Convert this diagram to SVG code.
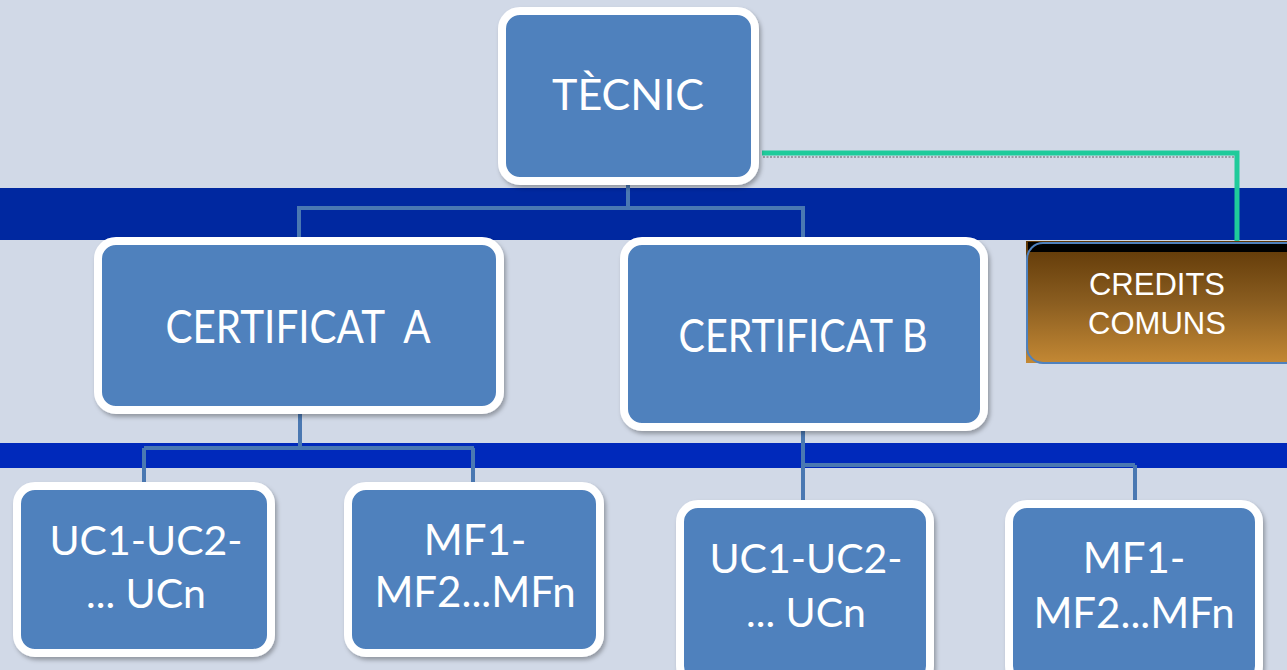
<svg xmlns="http://www.w3.org/2000/svg" width="1287" height="670" viewBox="0 0 1287 670">
  <defs>
    <style>
      .node rect.box { fill: #4f81bd; stroke: #ffffff; stroke-width: 8; filter: url(#shadow); }
      .lbl { font-family: Lato, "Open Sans", "Liberation Sans", sans-serif; fill: #ffffff; text-anchor: middle; }
      .conn { fill: none; stroke: #4a78b2; stroke-width: 4; }
      .green { fill: none; stroke: #1fcb9b; stroke-width: 5; }
      .arial { font-family: "Liberation Sans", Arial, sans-serif; fill: #ffffff; text-anchor: middle; font-size: 31px; }
    </style>
    <filter id="shadow" x="-10%" y="-10%" width="125%" height="130%">
      <feDropShadow dx="2" dy="3" stdDeviation="2" flood-color="#000000" flood-opacity="0.3"/>
    </filter>
    <linearGradient id="brown" x1="0" y1="0" x2="0" y2="1">
      <stop offset="0" stop-color="#5e3706"/>
      <stop offset="0.5" stop-color="#8a5d20"/>
      <stop offset="1" stop-color="#c38834"/>
    </linearGradient>
  </defs>

  <!-- background -->
  <rect x="0" y="0" width="1287" height="670" fill="#d1d9e7"/>
  <rect x="0" y="188" width="1287" height="52" fill="#0028a0"/>
  <rect x="0" y="443" width="1287" height="25" fill="#0029bb"/>

  <!-- connectors -->
  <g id="connectors">
    <path class="conn" d="M628,181 V208 M297,208 H805 M299,208 V240 M803,208 V240"/>
    <path class="conn" d="M300,412 V448 M144,448 H474 M144,448 V483 M473,448 V483"/>
    <path class="conn" d="M803,430 V502 M803,465 H1135 M1135,465 V502"/>
    <path d="M763,157 H1235" fill="none" stroke="#555" stroke-width="1.5" stroke-dasharray="2 1.5" opacity="0.6"/>
    <path class="green" d="M762,153 H1237 V241"/>
  </g>

  <g id="tecnic" class="node">
    <rect class="box" x="502" y="11" width="253" height="170" rx="18"/>
    <text class="lbl" x="628" y="110" font-size="43">TÈCNIC</text>
  </g>

  <g id="certA" class="node">
    <rect class="box" x="98" y="241" width="402" height="169" rx="18"/>
    <text class="lbl" x="298" y="343" font-size="46" textLength="265" lengthAdjust="spacingAndGlyphs" xml:space="preserve">CERTIFICAT  A</text>
  </g>

  <g id="certB" class="node">
    <rect class="box" x="624" y="241" width="360" height="186" rx="18"/>
    <text class="lbl" x="803" y="352" font-size="46" textLength="249" lengthAdjust="spacingAndGlyphs">CERTIFICAT B</text>
  </g>

  <g id="credits" class="node">
    <rect x="1026" y="241" width="261" height="122" fill="url(#brown)"/>
    <rect x="1028" y="242" width="259" height="10" fill="#000000"/>
    <rect x="1027" y="243" width="275" height="120" rx="16" fill="none" stroke="#4f81bd" stroke-width="2"/>
    <text class="arial" x="1157" y="295">CREDITS</text>
    <text class="arial" x="1157" y="334">COMUNS</text>
  </g>

  <g id="ucA" class="node">
    <rect class="box" x="17" y="486" width="254" height="167" rx="18"/>
    <text class="lbl" x="146" y="555" font-size="41">UC1-UC2-</text>
    <text class="lbl" x="146" y="608" font-size="41">... UCn</text>
  </g>

  <g id="mfA" class="node">
    <rect class="box" x="348" y="486" width="252" height="167" rx="18"/>
    <text class="lbl" x="475" y="555" font-size="42">MF1-</text>
    <text class="lbl" x="475" y="607" font-size="42">MF2...MFn</text>
  </g>

  <g id="ucB" class="node">
    <rect class="box" x="680" y="504" width="250" height="180" rx="18"/>
    <text class="lbl" x="806" y="573" font-size="41">UC1-UC2-</text>
    <text class="lbl" x="806" y="627" font-size="41">... UCn</text>
  </g>

  <g id="mfB" class="node">
    <rect class="box" x="1009" y="504" width="250" height="180" rx="18"/>
    <text class="lbl" x="1134" y="573" font-size="42">MF1-</text>
    <text class="lbl" x="1134" y="628" font-size="42">MF2...MFn</text>
  </g>
</svg>
